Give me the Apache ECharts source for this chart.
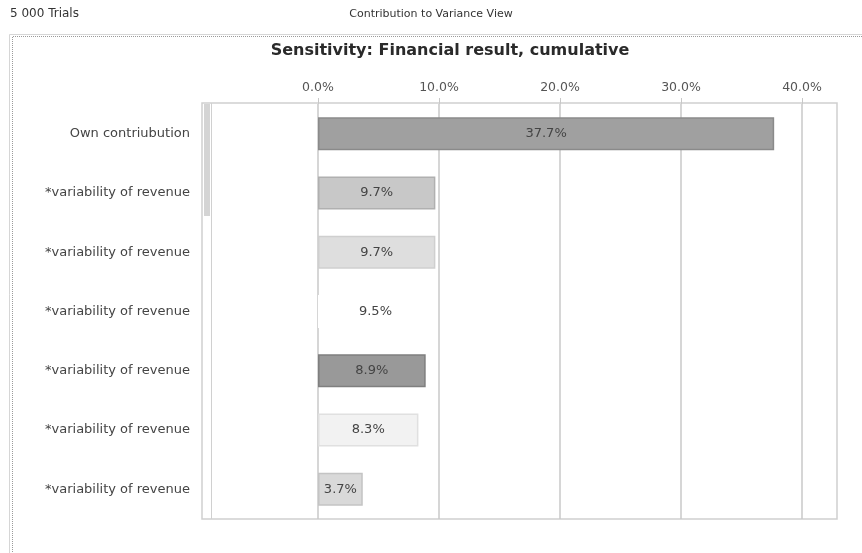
<!DOCTYPE html>
<html>
<head>
<meta charset="utf-8">
<script src="https://cdn.jsdelivr.net/npm/echarts@6/dist/echarts.min.js"></script>
<style>
  html, body { margin: 0; padding: 0; background: #fff; }
  #chart { width: 862px; height: 553px; }
</style>
</head>
<body>
<div id="chart"></div>
<script>
// Sensitivity data: contribution to variance per input (percent)
const categories = [
  'Own contriubution',
  '*variability of revenue',
  '*variability of revenue',
  '*variability of revenue',
  '*variability of revenue',
  '*variability of revenue',
  '*variability of revenue'
];
const contributions = [37.7, 9.7, 9.7, 9.5, 8.9, 8.3, 3.7];
const barFills = ['#a0a0a0', '#c8c8c8', '#dedede', '#ffffff', '#999999', '#f2f2f2', '#d9d9d9'];
const barEdges = ['#8a8a8a', '#b0b0b0', '#cfcfcf', '#ffffff', '#7f7f7f', '#e0e0e0', '#c4c4c4'];
const tickValues = [0, 10, 20, 30, 40];

const chart = echarts.init(document.getElementById('chart'), null, { renderer: 'canvas' });
const FONT = '"DejaVu Sans", Verdana, sans-serif';

chart.setOption({
  animation: false,
  backgroundColor: '#ffffff',
  textStyle: { fontFamily: FONT },
  graphic: [
    { type: 'text', left: 10, top: 8, style: { text: '5 000 Trials', font: '12px ' + FONT, fill: '#333' } },
    { type: 'text', x: 431, y: 9, style: { text: 'Contribution to Variance View', font: '11px ' + FONT, fill: '#333', align: 'center' } },
    // report frame
    { type: 'polyline', shape: { points: [[9.5, 560], [9.5, 34.5], [870, 34.5]] },
      style: { stroke: '#d6d6d6', lineWidth: 1, fill: null }, silent: true },
    { type: 'polyline', shape: { points: [[12.5, 560], [12.5, 36.5], [870, 36.5]] },
      style: { stroke: '#9a9a9a', lineWidth: 1, lineDash: [1, 1], fill: null }, silent: true },
    // plot box with scroll strip
    { type: 'rect', shape: { x: 202, y: 103, width: 635, height: 416 },
      style: { stroke: '#d0d0d0', lineWidth: 1.5, fill: null }, silent: true, z: 0 },
    { type: 'line', shape: { x1: 211.5, y1: 103, x2: 211.5, y2: 519 },
      style: { stroke: '#d0d0d0', lineWidth: 1 }, silent: true },
    { type: 'rect', shape: { x: 204, y: 104, width: 6, height: 112 },
      style: { fill: '#d4d4d4' }, silent: true }
  ],
  title: {
    text: 'Sensitivity: Financial result, cumulative',
    left: 445, top: 38, textAlign: 'center',
    textStyle: { fontFamily: FONT, fontSize: 16, fontWeight: 'bold', color: '#2a2a2a' }
  },
  grid: { left: 318, right: 60, top: 104, bottom: 34, containLabel: false },
  xAxis: {
    type: 'value', position: 'top', min: 0, max: 40, interval: 10,
    axisLine: { show: false },
    axisTick: { show: true, inside: false, length: 6, lineStyle: { color: '#c8c8c8' } },
    axisLabel: {
      margin: 10, color: '#555', fontSize: 12.5, fontFamily: FONT,
      formatter: v => tickValues.includes(v) ? v.toFixed(1) + '%' : ''
    },
    splitLine: { show: true, lineStyle: { color: '#c8c8c8', width: 1.5 } }
  },
  yAxis: {
    type: 'category', inverse: true, data: categories,
    axisLine: { show: false }, axisTick: { show: false },
    axisLabel: { margin: 128, color: '#444', fontSize: 13, fontFamily: FONT }
  },
  series: [{
    type: 'bar',
    barWidth: 33,
    data: contributions.map((v, i) => ({
      value: v,
      itemStyle: { color: barFills[i], borderColor: barEdges[i], borderWidth: 1.5 }
    })),
    label: {
      show: true, position: 'inside', color: '#444', fontSize: 13, fontFamily: FONT,
      formatter: p => p.value.toFixed(1) + '%'
    }
  }]
});
</script>
</body>
</html>
